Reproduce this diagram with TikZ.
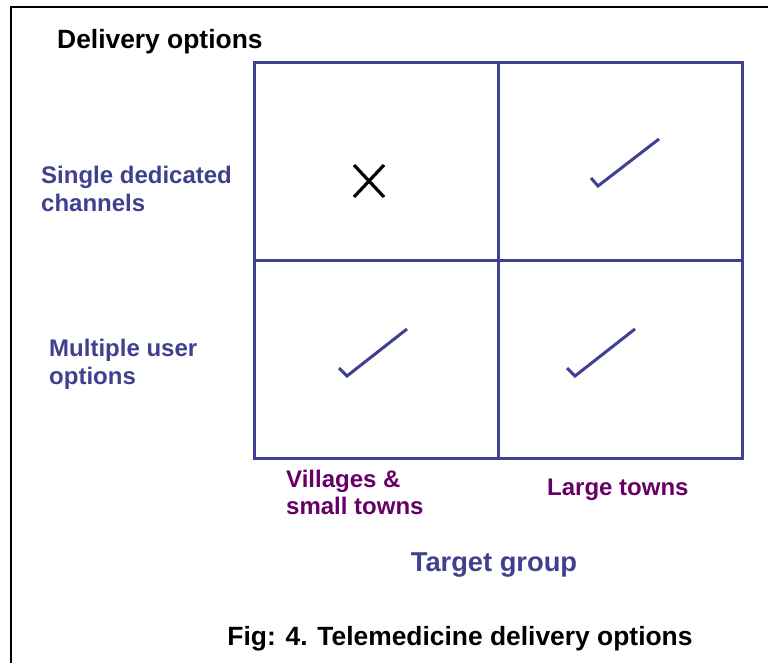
\documentclass[tikz,border=0pt]{standalone}
\usepackage{fontspec}
\setmainfont{Liberation Sans}
\definecolor{gridblue}{HTML}{404090}
\definecolor{labpurple}{HTML}{660066}
\begin{document}
\begin{tikzpicture}[x=1pt,y=-1pt,
  grid/.style={draw=gridblue,line width=3pt,line join=miter},
  tick/.style={draw=gridblue,line width=3pt},
  bluelab/.style={text=gridblue,font=\fontsize{24}{28}\selectfont\bfseries,align=left,anchor=west,inner sep=0pt},
  purplab/.style={text=labpurple,font=\fontsize{24}{27}\selectfont\bfseries,align=left,anchor=west,inner sep=0pt},
  blacklab/.style={text=black,font=\fontsize{26.4}{30}\selectfont\bfseries,inner sep=0pt}]
\useasboundingbox (0,0) rectangle (768,663);
\draw[line width=1.5pt] (11,663) -- (11,7) -- (768,7);
\node[blacklab,anchor=west] (title) at (57,42) {Delivery options};
% grid
\coordinate (tl) at (254,63);
\coordinate (br) at (742,458);
\draw[grid] (tl) rectangle (br);
\coordinate (tm) at (498,63);
\coordinate (bm) at (498,458);
\coordinate (lm) at (254,260);
\coordinate (rm) at (742,260);
\draw[grid] (tm) -- (bm);
\draw[grid] (lm) -- (rm);
% row labels
\node[bluelab] (row1) at (41,189) {Single dedicated\\channels};
\node[bluelab] (row2) at (49,364) {Multiple user\\options};
% cell marks
\draw[line width=3.2pt] (354,165) -- (384,197);
\draw[line width=3.2pt] (384,165) -- (354,197);
\draw[tick] (591,178) -- (598,186) -- (659,139);
\draw[tick] (339,368) -- (347,376) -- (407,329);
\draw[tick] (567,368) -- (575,376) -- (635,329);
% column labels
\node[purplab] (col1) at (286,492) {Villages \&\\small towns};
\node[purplab] (col2) at (547,490) {Large towns};
\node[text=gridblue,font=\fontsize{27.3}{30}\selectfont\bfseries,inner sep=0pt] (axis) at (494,565) {Target group};
\node[blacklab] (cap) at (460,639) {Fig: 4. Telemedicine delivery options};
\end{tikzpicture}
\end{document}
